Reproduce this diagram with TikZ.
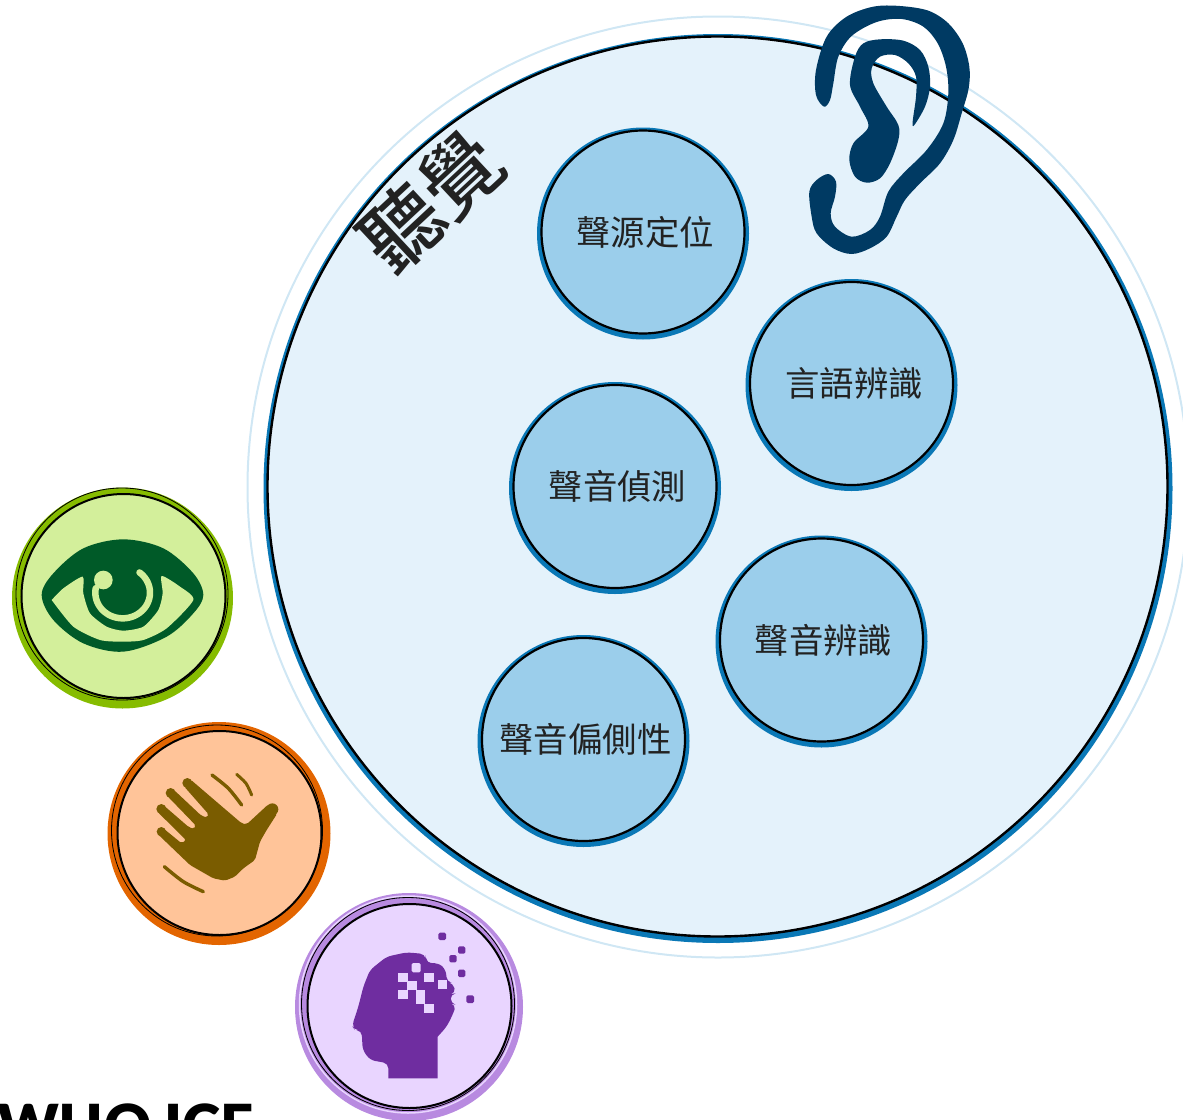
\documentclass[tikz,border=0pt]{standalone}
\usepackage{fontspec}
\newfontfamily\cjk{Noto Sans CJK TC}
\newfontfamily\cjkmed{Noto Sans CJK TC Medium}
\newfontfamily\latin{Lato Black}
\definecolor{paleline}{HTML}{D0E7F4}
\definecolor{bigfill}{HTML}{E4F2FB}
\definecolor{blueline}{HTML}{0A78B6}
\definecolor{smallfill}{HTML}{9BCEEB}
\definecolor{eardark}{HTML}{003A63}
\definecolor{greenring}{HTML}{86BC00}
\definecolor{greenfill}{HTML}{D3EF9B}
\definecolor{greendark}{HTML}{005A28}
\definecolor{orangering}{HTML}{E36500}
\definecolor{orangefill}{HTML}{FFC499}
\definecolor{handdark}{HTML}{7A5C00}
\definecolor{purplering}{HTML}{B88AE0}
\definecolor{purplefill}{HTML}{E9D5FF}
\definecolor{purpledark}{HTML}{6F2DA0}
\definecolor{inktext}{HTML}{222222}
\tikzset{
  topic/.style={circle,fill=smallfill,draw=black,line width=2.2pt,minimum size=203pt,inner sep=0pt,
    text=inktext,font=\cjk\fontsize{34.4}{40}\selectfont},
  topicring/.style={circle,fill=blueline,minimum size=212pt,inner sep=0pt},
  iconbody/.style={circle,draw=black,line width=2pt,minimum size=204pt,inner sep=0pt},
  blob/.style={smooth cycle,tension=0.55},
}
\begin{document}
\begin{tikzpicture}[x=1pt,y=-1pt]
\useasboundingbox (0,0) rectangle (1183,1119);
\clip (0,0) rectangle (1183,1119);
% big circle
\draw[paleline,line width=2pt] (718,487) circle[radius=470.5];
\fill[blueline] (718,488.5) circle[radius=454.5];
\draw[black,fill=bigfill,line width=2.4pt] (717.5,486.5) circle[radius=450];
% five topics
\node[topicring] (r1) at (643,233.5) {};
\node[topic] (n1) at (643,232) {\hspace*{4pt}聲源定位};
\node[topicring] (r2) at (851.5,385) {};
\node[topic] (n2) at (851.5,383.5) {\hspace*{5pt}言語辨識};
\node[topicring] (r3) at (615,488) {};
\node[topic] (n3) at (615,486.5) {\hspace*{5pt}聲音偵測};
\node[topicring] (r4) at (821.5,641.5) {};
\node[topic] (n4) at (821.5,640) {\hspace*{4pt}聲音辨識};
\node[topicring] (r5) at (583.5,741) {};
\node[topic] (n5) at (583.5,739.5) {\hspace*{4pt}聲音偏側性};
% title
\node[rotate=43,text=inktext,font=\cjkmed\fontsize{80}{84}\selectfont,inner sep=0pt] (title) at (431,201) {聽覺};
% ear
\begin{scope}[shift={(780,0)},scale=1/3]
\fill[eardark] plot[blob] coordinates {(132,320)(108,285)(108,210)(140,110)(200,50)(280,20)(360,18)(445,32)(505,70)(548,130)(568,200)(566,265)(545,340)(520,420)(480,490)(420,550)(375,600)(350,650)(320,710)(270,745)(215,762)(160,745)(110,700)(95,650)(88,575)(110,540)(145,522)(168,545)(165,590)(152,640)(165,680)(215,710)(270,690)(300,650)(325,575)(370,520)(440,450)(490,370)(505,280)(498,200)(473,130)(430,80)(365,57)(290,66)(215,108)(175,170)(160,250)(150,300)};
\fill[eardark] plot[blob] coordinates {(210,255)(225,170)(250,130)(300,118)(370,122)(420,150)(445,200)(450,260)(435,320)(403,375)(398,365)(408,290)(408,230)(385,190)(345,165)(300,170)(275,205)(280,250)(320,320)(355,375)(355,420)(330,490)(300,535)(260,548)(225,530)(208,480)(220,430)(265,380)(240,320)};
\end{scope}
% eye icon
\fill[greenring] (122.5,598) circle[radius=110.5];
\draw[black,line width=0.8pt] (122,594) circle[radius=106];
\node[iconbody,fill=greenfill] (eyeicon) at (123.5,596) {};
\begin{scope}[shift={(0,480)},scale=1/3]
\fill[greendark] plot[blob] coordinates {(125,345)(160,280)(250,205)(370,178)(490,205)(580,280)(610,345)(580,400)(500,470)(370,515)(250,490)(160,420)};
\fill[greenfill] plot[smooth,tension=0.4] coordinates {(155,360)(190,325)(248,290)(250,340)(270,400)(320,440)(370,452)(430,440)(475,390)(488,340)(485,288)(540,320)(580,360)(500,445)(430,480)(370,485)(300,480)(220,440)(155,360)} -- cycle;
\draw[greenfill,line width=6.5pt,line cap=round] plot[domain=-52:190,samples=50,smooth] ({368+82*cos(\x)},{338+77*sin(\x)});
\fill[greenfill] (310,300) circle[radius=28];
\end{scope}
% hand icon
\fill[orangering] (219,833.5) circle[radius=111.5];
\draw[black,line width=0.8pt] (217,830.5) circle[radius=105.5];
\node[iconbody,fill=orangefill] (handicon) at (219.5,833) {};
\begin{scope}[shift={(100,715)},scale=1/3]
\fill[handdark,rounded corners=2pt] (505,268)--(440,328)--(425,325)--(272,194)--(252,214)--(326,298)--(322,308)--(304,302)--(222,225)--(202,243)--(288,332)--(282,342)--(266,336)--(192,272)--(174,292)--(258,375)--(245,385)--(190,340)--(174,358)--(270,450)--(340,490)--(375,497)--(405,485)--(430,460)--(465,435)--(480,380)--(500,345)--(532,295)--cycle;
\fill[handdark] (517,283) circle[radius=18];
\fill[handdark] (262,204) circle[radius=15];
\fill[handdark] (212,234) circle[radius=15];
\fill[handdark] (184,282) circle[radius=15];
\fill[handdark] (184,350) circle[radius=14];
\draw[handdark,line width=3.4pt,line cap=round] plot[smooth] coordinates {(336,180)(385,220)(425,270)};
\draw[handdark,line width=3pt,line cap=round] plot[smooth] coordinates {(410,178)(438,205)(455,240)};
\draw[handdark,line width=3.4pt,line cap=round] plot[smooth] coordinates {(193,455)(250,500)(310,530)};
\end{scope}
% head icon
\fill[purplering] (409,1007) circle[radius=114];
\draw[purplefill,line width=1.5pt] (408,1004.5) circle[radius=108.5];
\draw[black,line width=0.8pt] (408,1004) circle[radius=106.5];
\node[iconbody,fill=purplefill] (headicon) at (409.5,1006) {};
\begin{scope}[shift={(290,890)},scale=1/3]
\fill[purpledark,rounded corners=5pt] (295,565)[sharp corners]--(443,565)--(443,440)[rounded corners=5pt]--(470,410)--(490,370)--(498,345)--(482,340)--(482,312)--(497,310)--(490,280)--(470,275)--(468,240)--(445,218)--(420,222)--(408,210)--(405,192)--(350,187)--(290,200)--(240,240)--(220,290)--(205,350)--(186,408)--(195,420)--(215,422)--(218,480)--(240,510)--(295,520)[sharp corners]--(295,565)--cycle;
\fill[purplefill,rounded corners=1.5pt] (365,219) rectangle (392,247);
\fill[purplefill] (403,248) rectangle (431,277);
\fill[purplefill] (325,250) rectangle (353,277);
\fill[purplefill] (352,272) rectangle (380,300);
\fill[purplefill] (325,300) rectangle (354,327);
\fill[purplefill] (378,300) rectangle (405,342);
\fill[purplefill] (403,342) rectangle (432,369);
\fill[purplefill] (443,270) rectangle (470,297);
\fill[purpledark,rounded corners=1.5pt] (445,128) rectangle (468,150);
\fill[purpledark,rounded corners=1.5pt] (504,169) rectangle (526,191);
\fill[purpledark,rounded corners=1.5pt] (478,195) rectangle (500,217);
\fill[purpledark,rounded corners=1.5pt] (504,239) rectangle (526,261);
\fill[purpledark,rounded corners=1.5pt] (529,316) rectangle (552,339);
\end{scope}
% cropped caption
\node[anchor=base west,inner sep=0pt,font=\latin\fontsize{58}{60}\selectfont] (caption) at (-3,1146) {WHO ICF};
\end{tikzpicture}
\end{document}
